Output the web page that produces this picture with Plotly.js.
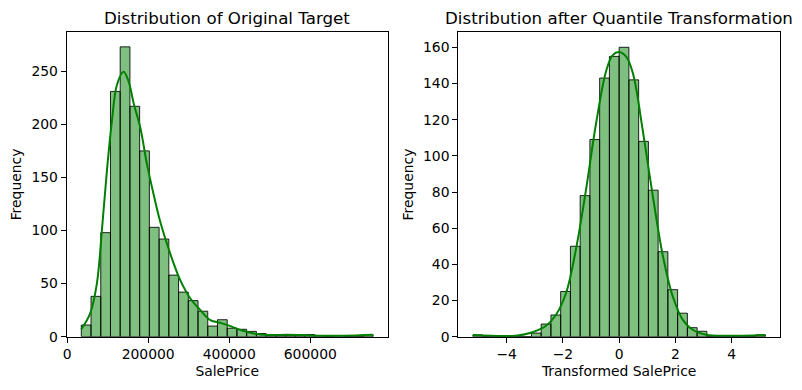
<!DOCTYPE html>
<html>
<head>
<meta charset="utf-8">
<script src="https://cdn.plot.ly/plotly-3.0.1.min.js"></script>
<style>html,body{margin:0;padding:0;background:#fff;}#chart{width:802px;height:390px;}</style>
</head>
<body>
<div id="chart"></div>
<script>
// ---- Data ----
// Left: SalePrice histogram, 30 equal bins between min and max
const priceMin = 34900;
const priceMax = 755000;
const priceCounts = [11, 38, 98, 231, 273, 217, 175, 103, 92, 58, 42, 34, 24, 10, 16, 8, 7, 5, 3, 1, 1, 1, 1, 2, 1, 0, 1, 0, 0, 2];
// KDE curve of SalePrice (scaled to counts)
const priceKdeX = [34900, 56860, 73350, 85700, 98070, 110440, 122800, 139200, 151600, 164000, 180470, 196950, 213400, 229900, 254600, 279360, 304100, 328800, 353500, 378200, 403000, 427700, 460600, 493600, 543100, 576000, 625500, 683100, 755000];
const priceKdeY = [7, 22, 50, 100, 156, 203, 237, 249.5, 240.5, 220, 197, 162.5, 134, 108, 78, 53, 36, 25, 15.6, 13, 10, 6.3, 3.1, 1.6, 1.9, 1.6, 0.9, 1.0, 1.9];

// Right: quantile-transformed SalePrice, 30 equal bins
const tMin = -5.199;
const tMax = 5.199;
const tCounts = [1, 0, 0, 0, 0, 0, 2, 7, 12, 25, 50, 78, 109, 143, 155, 160, 142, 108, 81, 47, 26, 13, 5, 3, 0, 0, 0, 0, 0, 1];
const tKdeX = [-5.2, -3.68, -3.14, -2.61, -2.25, -1.89, -1.54, -1.18, -0.82, -0.46, -0.23, 0, 0.25, 0.49, 0.84, 1.2, 1.56, 1.91, 2.27, 2.63, 3.1, 3.8, 5.2];
const tKdeY = [0.9, 0.55, 2.2, 5.9, 12, 24, 48, 81, 118, 147, 155.7, 157.4, 154.8, 145.6, 114, 77.4, 44.2, 22.1, 9.2, 3.7, 1.1, 0.5, 1.0];

const leftTicks = [0, 200000, 400000, 600000];
const leftTickText = ['0', '200000', '400000', '600000'];
const leftYTicks = [0, 50, 100, 150, 200, 250];
const rightTicks = [-4, -2, 0, 2, 4];
const rightTickText = ['\u22124', '\u22122', '0', '2', '4'];
const rightYTicks = [0, 20, 40, 60, 80, 100, 120, 140, 160];

const titles = ['Distribution of Original Target', 'Distribution after Quantile Transformation'];
const xTitles = ['SalePrice', 'Transformed SalePrice'];
const yTitle = 'Frequency';

// ---- Build ----
function binCenters(min, max, n) {
  const w = (max - min) / n;
  const c = [];
  for (let i = 0; i < n; i++) c.push(min + w * (i + 0.5));
  return {centers: c, width: w};
}
const pb = binCenters(priceMin, priceMax, priceCounts.length);
const tb = binCenters(tMin, tMax, tCounts.length);

const barColor = 'rgba(0,128,0,0.5)';
const edge = {color: 'rgba(0,0,0,0.85)', width: 1};
const kdeLine = {color: '#008000', width: 2, shape: 'spline', smoothing: 1};

const traces = [
  {type: 'bar', x: pb.centers, y: priceCounts, width: pb.width, marker: {color: barColor, line: edge}, xaxis: 'x', yaxis: 'y', hoverinfo: 'skip'},
  {type: 'scatter', mode: 'lines', x: priceKdeX, y: priceKdeY, line: kdeLine, xaxis: 'x', yaxis: 'y', hoverinfo: 'skip'},
  {type: 'bar', x: tb.centers, y: tCounts, width: tb.width, marker: {color: barColor, line: edge}, xaxis: 'x2', yaxis: 'y2', hoverinfo: 'skip'},
  {type: 'scatter', mode: 'lines', x: tKdeX, y: tKdeY, line: kdeLine, xaxis: 'x2', yaxis: 'y2', hoverinfo: 'skip'}
];

const W = 802, H = 390;
const px = v => v / W;
const py = v => 1 - v / H;
const font = {family: 'DejaVu Sans', size: 13.9, color: '#000'};
const axisBase = {
  showline: true, mirror: true, linecolor: '#000', linewidth: 1,
  ticks: 'outside', ticklen: 5, tickwidth: 1, tickcolor: '#000',
  showgrid: false, zeroline: false, tickfont: font, tickmode: 'array'
};
const pRange = [priceMin - 0.05 * (priceMax - priceMin), priceMax + 0.05 * (priceMax - priceMin)];
const tRange = [tMin - 0.05 * (tMax - tMin), tMax + 0.05 * (tMax - tMin)];

const layout = {
  width: W, height: H,
  margin: {l: 0, r: 0, t: 0, b: 0},
  paper_bgcolor: '#fff', plot_bgcolor: '#fff',
  showlegend: false, bargap: 0, barmode: 'overlay',
  font: font,
  xaxis: Object.assign({}, axisBase, {domain: [px(66.7), px(387.7)], range: pRange, anchor: 'y',
    tickvals: leftTicks, ticktext: leftTickText,
    title: {text: xTitles[0], font: font, standoff: 4}}),
  yaxis: Object.assign({}, axisBase, {domain: [py(336.7), py(32.3)], range: [0, 286.7], anchor: 'x',
    tickvals: leftYTicks, ticktext: leftYTicks.map(String),
    title: {text: yTitle, font: font, standoff: 6}}),
  xaxis2: Object.assign({}, axisBase, {domain: [px(458.3), px(780)], range: tRange, anchor: 'y2',
    tickvals: rightTicks, ticktext: rightTickText,
    title: {text: xTitles[1], font: font, standoff: 4}}),
  yaxis2: Object.assign({}, axisBase, {domain: [py(336.7), py(32.3)], range: [0, 168.3], anchor: 'x2',
    tickvals: rightYTicks, ticktext: rightYTicks.map(String),
    title: {text: yTitle, font: font, standoff: 6}}),
  annotations: [
    {text: titles[0], xref: 'paper', yref: 'paper', x: px(227.2), y: py(18.5), xanchor: 'center', yanchor: 'middle', showarrow: false, font: {family: 'DejaVu Sans', size: 16.67, color: '#000'}},
    {text: titles[1], xref: 'paper', yref: 'paper', x: px(619.2), y: py(18.5), xanchor: 'center', yanchor: 'middle', showarrow: false, font: {family: 'DejaVu Sans', size: 16.67, color: '#000'}}
  ]
};

Plotly.newPlot('chart', traces, layout, {staticPlot: true, displayModeBar: false});
</script>
</body>
</html>
